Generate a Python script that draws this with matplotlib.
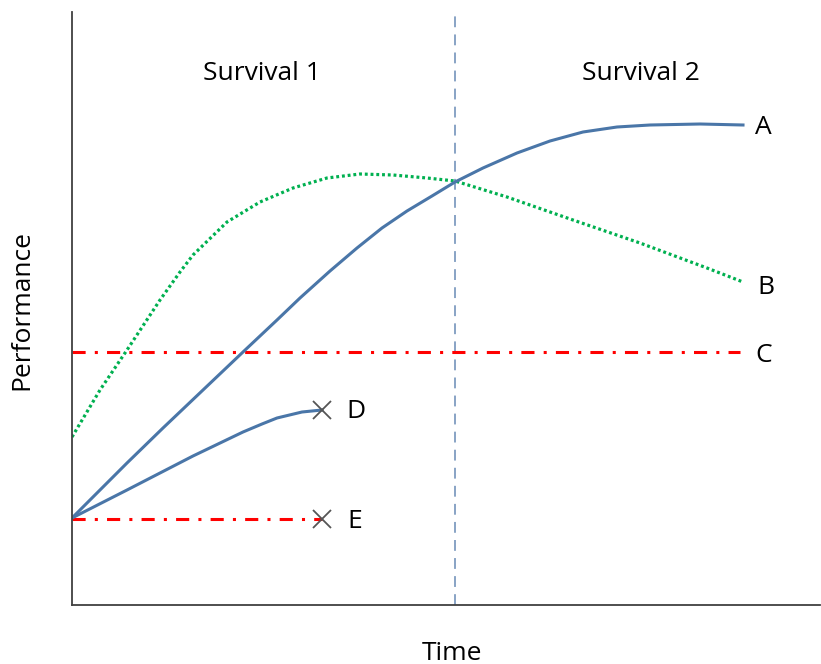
import numpy as np
import matplotlib.pyplot as plt

plt.rcParams['font.family'] = ['Open Sans', 'DejaVu Sans']

# values (x: time, y: performance, arbitrary units)
a_x = [0, 55, 91, 131, 171, 205, 228, 258, 285, 310, 335, 360, 383, 411, 445, 478, 511, 545, 578, 628, 671]
a_y = [87, 142, 177, 215, 253, 285, 307, 334, 357, 377, 394, 409, 423, 437, 452, 464, 473, 478, 480, 481, 480]

b_x = [0, 28, 55, 88, 108, 121, 155, 188, 221, 255, 288, 321, 355, 383, 435, 501, 568, 635, 671]
b_y = [168, 215, 255, 305, 333, 350, 383, 403, 417, 427, 431, 430, 427, 424, 408, 385, 362, 337, 323]

c_x = [0, 668]
c_y = [253, 253]

d_x = [0, 55, 121, 171, 190, 205, 230, 250]
d_y = [87, 115, 149, 173, 181, 187, 193, 195]

e_x = [0, 250]
e_y = [86, 86]

split_x = 383
labels = {"A": (683, 478), "B": (685, 318), "C": (683, 249),
          "D": (274, 194), "E": (275, 84)}
phases = {"Survival 1": (190, 531), "Survival 2": (569, 532)}

blue = "#4A76A8"
dashdot = (0, (4.3, 3.0, 1.0, 3.0))
fig = plt.figure(figsize=(8.21, 6.64), dpi=100)
ax = fig.add_axes([72 / 821, 59 / 664, 748 / 821, 593 / 664])
ax.set_xlim(0, 748)
ax.set_ylim(0, 593)

ax.axvline(split_x, color="#7F9CC0", lw=1.3, ls=(0, (6, 4)))
ax.plot(c_x, c_y, color="#FF0000", lw=2.2, ls=dashdot)
ax.plot(e_x, e_y, color="#FF0000", lw=2.2, ls=dashdot)
ax.plot(b_x, b_y, color="#00B050", lw=2.3, ls=(0, (0.9, 0.9)))
ax.plot(a_x, a_y, color=blue, lw=2.2, solid_joinstyle="round")
ax.plot(d_x, d_y, color=blue, lw=2.2, solid_joinstyle="round")
ax.plot([d_x[-1], e_x[-1]], [d_y[-1], e_y[-1]], ls="none", marker="x",
        ms=13, mew=1.3, color="#555555")

for k, (x, y) in labels.items():
    ax.text(x, y, k, fontsize=19, va="center", ha="left")
for k, (x, y) in phases.items():
    ax.text(x, y, k, fontsize=19, va="center", ha="center")

for s in ["top", "right"]:
    ax.spines[s].set_visible(False)
for s in ["left", "bottom"]:
    ax.spines[s].set_color("#404040")
    ax.spines[s].set_linewidth(1.3)
ax.set_xticks([])
ax.set_yticks([])
ax.set_xlabel("Time", fontsize=19)
ax.set_ylabel("Performance", fontsize=19)
ax.xaxis.set_label_coords(0.508, -0.06)
ax.yaxis.set_label_coords(-0.05, 0.497)

fig.savefig("out.png", dpi=100)
